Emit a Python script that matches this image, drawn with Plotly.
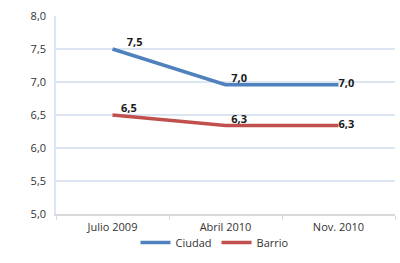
import plotly.graph_objects as go

categories = ["Julio 2009", "Abril 2010", "Nov. 2010"]
ciudad = [7.5, 6.96, 6.96]
barrio = [6.5, 6.34, 6.34]
y_ticks = [5.0, 5.5, 6.0, 6.5, 7.0, 7.5, 8.0]

font_family = "'Open Sans', 'Noto Sans', sans-serif"
sp = "&nbsp;"
ciudad_tpl = [sp * 5 + "<b>%{y:.1f}</b>", sp * 2 + "<b>%{y:.1f}</b>", "<b>%{y:.1f}</b>"]
barrio_tpl = [sp * 3 + "<b>%{y:.1f}</b>", sp * 2 + "<b>%{y:.1f}</b>", "<b>%{y:.1f}</b>"]

fig = go.Figure()
fig.add_trace(go.Scatter(
    x=categories, y=ciudad, name="Ciudad", mode="lines+text",
    line=dict(color="#4f81bd", width=3.5),
    texttemplate=ciudad_tpl,
    textposition=["top right", "top right", "middle right"],
    textfont=dict(size=11, color="#1a1a1a", family=font_family),
))
fig.add_trace(go.Scatter(
    x=categories, y=barrio, name="Barrio", mode="lines+text",
    line=dict(color="#c0504d", width=3.5),
    texttemplate=barrio_tpl,
    textposition=["top right", "top right", "middle right"],
    textfont=dict(size=11, color="#1a1a1a", family=font_family),
))

fig.update_layout(
    width=400, height=263,
    margin=dict(l=56, r=5, t=16, b=49, autoexpand=False),
    paper_bgcolor="white", plot_bgcolor="white",
    separators=",.",
    font=dict(family=font_family, size=11, color="#333333"),
    showlegend=True,
    legend=dict(orientation="h", x=0.469, xanchor="center",
                yref="container", y=0.078, yanchor="middle",
                bgcolor="rgba(0,0,0,0)",
                font=dict(size=11, color="#333333"), itemwidth=30,
                tracegroupgap=0),
    xaxis=dict(type="category", range=[-0.5, 2.5], showgrid=False,
               showline=True, linecolor="#d9d9d9", linewidth=2,
               ticks="outside", tickson="boundaries", ticklen=4, tickcolor="#d9d9d9",
               ticklabelstandoff=2, automargin=False,
               tickfont=dict(size=11, color="#333333")),
    yaxis=dict(range=[5.0, 8.0], tickvals=y_ticks, tickformat=".1f",
               showgrid=True, gridcolor="#dce6f2", gridwidth=1.5,
               showline=True, linecolor="#dce6f2", linewidth=1.5,
               zeroline=False, ticks="", ticklen=0, automargin=False,
               ticklabelstandoff=6,
               tickfont=dict(size=11, color="#333333")),
)

fig.write_html("out.html",
               config={"displayModeBar": False},
               post_script="document.body.style.margin='0';document.body.style.padding='0';")
